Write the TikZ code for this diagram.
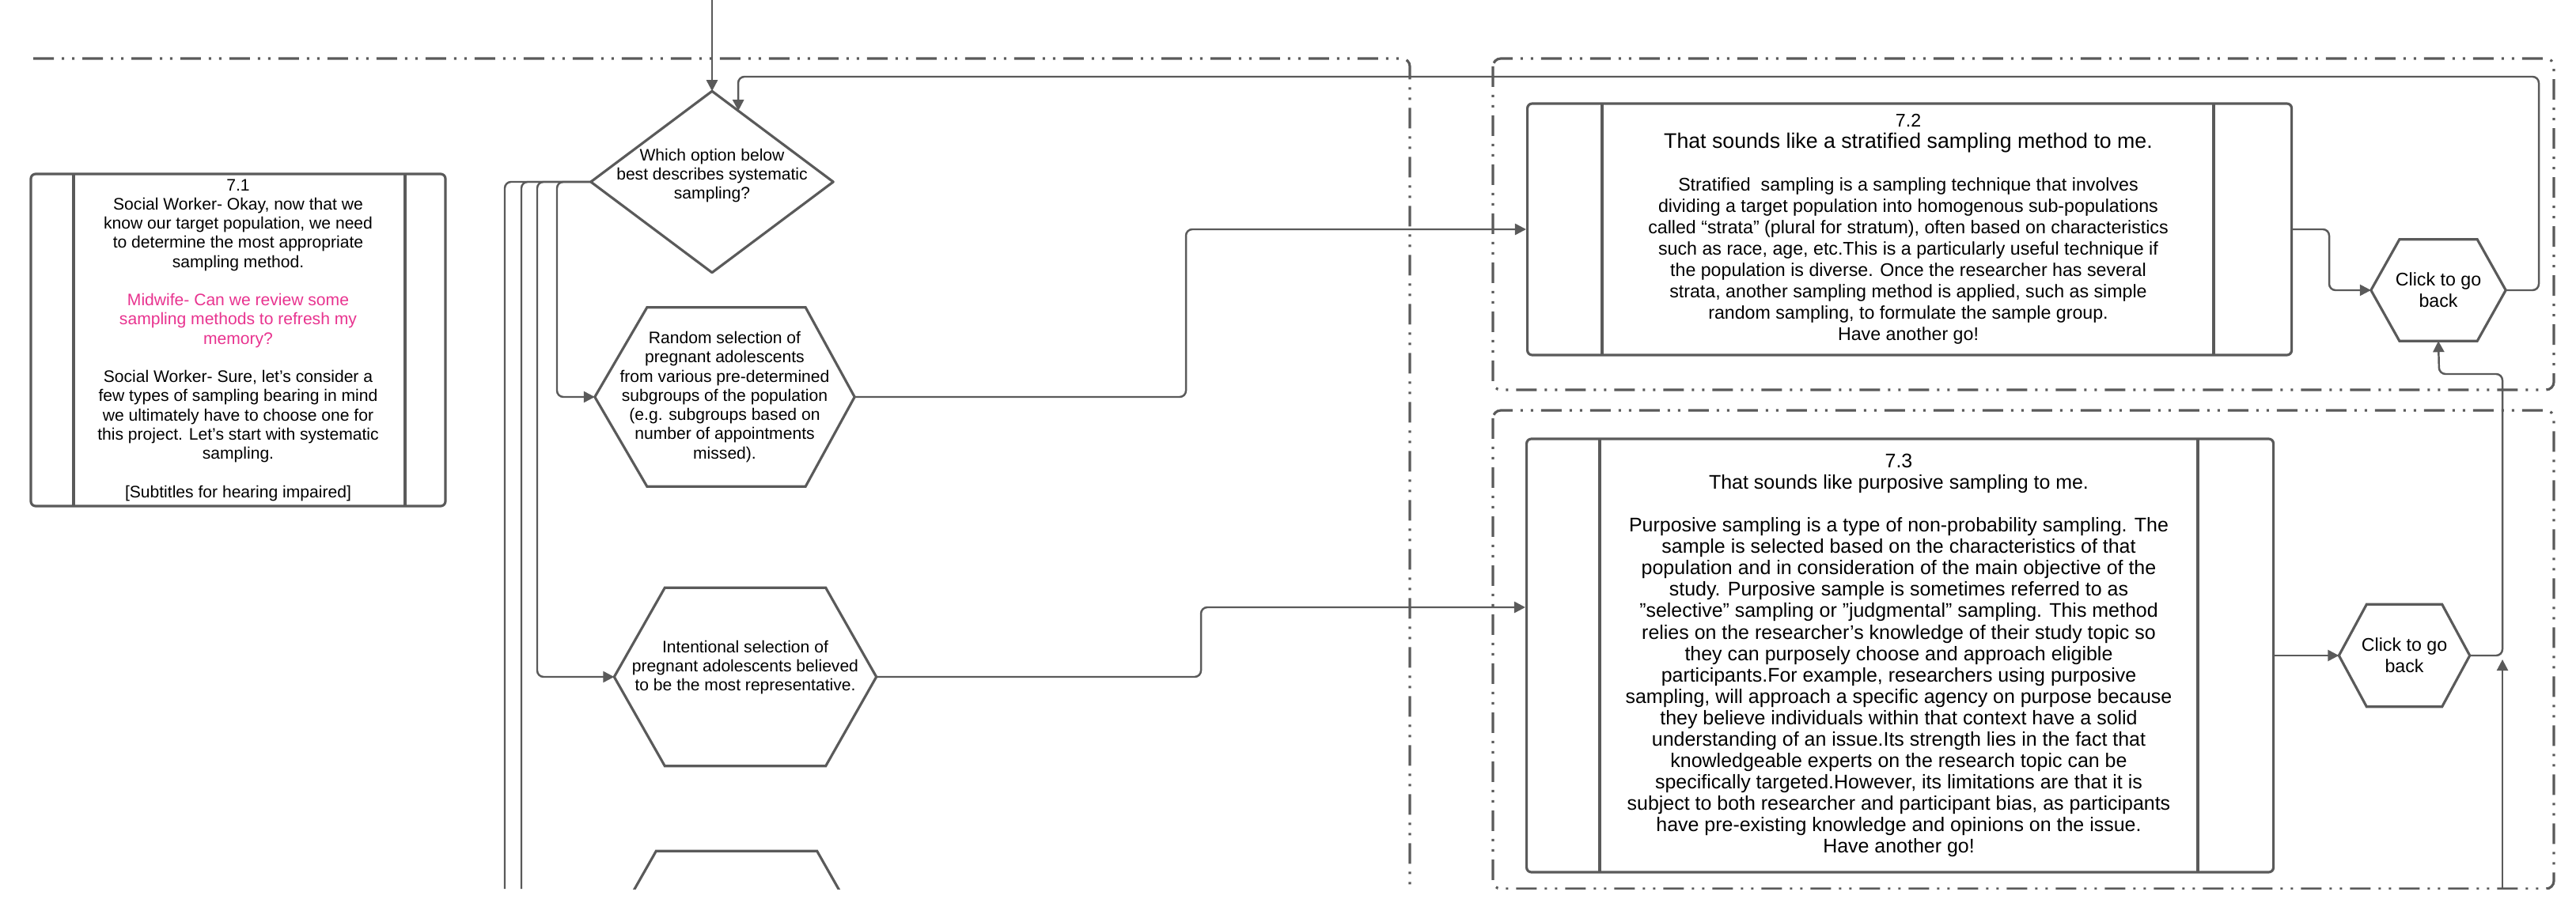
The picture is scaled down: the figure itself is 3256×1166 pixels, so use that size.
\documentclass[tikz,border=0pt]{standalone}
\usepackage{fontspec}
\setmainfont{Liberation Sans}
\usetikzlibrary{arrows.meta,calc}
\definecolor{ln}{HTML}{5A5A5A}
\definecolor{pink}{HTML}{E8338F}
\begin{document}
\begin{tikzpicture}[x=0.1mm,y=-0.1mm,
  frame/.style={draw=ln,line width=0.9pt,rounded corners=1mm,dash pattern=on 2.6mm off 1mm on 0.3mm off 1mm on 0.3mm off 1mm},
  con/.style={draw=ln,line width=0.7pt,rounded corners=0.8mm},
  arr/.style={con,-{Triangle[width=4pt,length=4pt]}},
  box/.style={draw=ln,line width=0.9pt,rounded corners=0.6mm,inner sep=0pt},
  ghost/.style={draw=none,inner sep=0pt,align=center},
  txt/.style={align=center,font=\fontsize{6}{6.9}\selectfont},
  txtb/.style={align=center,font=\fontsize{6.6}{7.7}\selectfont},
  txtc/.style={align=center,font=\fontsize{7.1}{7.7}\selectfont},
  shp/.style={draw=ln,line width=0.9pt}
]
\useasboundingbox (0,0) rectangle (3256,1166);
\clip (0,0) rectangle (3256,1124);
% frames
\draw[frame] (42,74) -- (1782,74) -- (1782,1124);
\draw[frame] (1887,74) rectangle (3228,493);
\draw[frame] (1887,519) rectangle (3228,1124);

% 7.1
\node[box,minimum width=52.4mm,minimum height=42mm] (b1) at (301,430) {};
\draw[shp] (93,220) -- (93,640) (512,220) -- (512,640);
\node[txt] at (301,430) {7.1\\Social Worker- Okay, now that we\\know our target population, we need\\to determine the most appropriate\\sampling method.\\[6.9pt]
\textcolor{pink}{Midwife- Can we review some}\\\textcolor{pink}{sampling methods to refresh my}\\\textcolor{pink}{memory?}\\[6.9pt]
Social Worker- Sure, let's consider a\\few types of sampling bearing in mind\\we ultimately have to choose one for\\this project. Let's start with systematic\\sampling.\\[6.9pt][Subtitles for hearing impaired]};

% diamond
\node[ghost,minimum width=30.5mm,minimum height=22.8mm] (d) at (900,230) {};
\draw[shp,line join=round] (d.west) -- (d.north) -- (d.east) -- (d.south) -- cycle;
\node[txt] at (900,222) {Which option below\\best describes systematic\\sampling?};

% hexagons
\node[ghost,minimum width=32.7mm,minimum height=22.5mm] (h1) at (916,502) {};
\draw[shp] (h1.west) -- ($(h1.north west)+(66,0)$) -- ($(h1.north east)+(-62,0)$) -- (h1.east) -- ($(h1.south east)+(-62,0)$) -- ($(h1.south west)+(66,0)$) -- cycle;
\node[txt] at (916,502) {Random selection of\\pregnant adolescents\\from various pre-determined\\subgroups of the population\\(e.g. subgroups based on\\number of appointments\\missed).};

\node[ghost,minimum width=33mm,minimum height=22.4mm] (h2) at (942,856) {};
\draw[shp] (h2.west) -- ($(h2.north west)+(64,0)$) -- ($(h2.north east)+(-64,0)$) -- (h2.east) -- ($(h2.south east)+(-64,0)$) -- ($(h2.south west)+(64,0)$) -- cycle;
\node[txt] at (942,844) {Intentional selection of\\pregnant adolescents believed\\to be the most representative.};

\node[ghost,minimum width=33mm,minimum height=22.4mm] (h3) at (931,1189) {};
\draw[shp] (h3.west) -- ($(h3.north west)+(64,0)$) -- ($(h3.north east)+(-64,0)$) -- (h3.east) -- ($(h3.south east)+(-64,0)$) -- ($(h3.south west)+(64,0)$) -- cycle;

% 7.2
\node[box,minimum width=96.6mm,minimum height=31.8mm] (b2) at (1929,290) [anchor=west] {};
\draw[shp] (2025,131) -- (2025,449) (2798,131) -- (2798,449);
\node[txtb] at (2412,290) {7.2\\{\fontsize{7.6}{8.8}\selectfont That sounds like a stratified sampling method to me.}\\[7.7pt]
Stratified\ \ sampling is a sampling technique that involves\\dividing a target population into homogenous sub-populations\\called ``strata'' (plural for stratum), often based on characteristics\\such as race, age, etc.This is a particularly useful technique if\\the population is diverse. Once the researcher has several\\strata, another sampling method is applied, such as simple\\random sampling, to formulate the sample group.\\Have another go!};

% 7.3
\node[box,minimum width=94.4mm,minimum height=54.8mm] (b3) at (1928,829) [anchor=west] {};
\draw[shp] (2022,555) -- (2022,1103) (2778,555) -- (2778,1103);
\node[txtc] at (2400,829) {7.3\\That sounds like purposive sampling to me.\\[7.7pt]
Purposive sampling is a type of non-probability sampling. The\\sample is selected based on the characteristics of that\\population and in consideration of the main objective of the\\study. Purposive sample is sometimes referred to as\\"selective" sampling or "judgmental" sampling. This method\\relies on the researcher's knowledge of their study topic so\\they can purposely choose and approach eligible\\participants.For example, researchers using purposive\\sampling, will approach a specific agency on purpose because\\they believe individuals within that context have a solid\\understanding of an issue.Its strength lies in the fact that\\knowledgeable experts on the research topic can be\\specifically targeted.However, its limitations are that it is\\subject to both researcher and participant bias, as participants\\have pre-existing knowledge and opinions on the issue.\\Have another go!};

% click hexagons
\node[ghost,minimum width=16.9mm,minimum height=12.7mm,txtb] (c1) at (3082,367) {Click to go\\back};
\draw[shp] (c1.west) -- ($(c1.north west)+(36,0)$) -- ($(c1.north east)+(-36,0)$) -- (c1.east) -- ($(c1.south east)+(-36,0)$) -- ($(c1.south west)+(36,0)$) -- cycle;
\node[ghost,minimum width=16.4mm,minimum height=12.8mm,txtb] (c2) at (3039,829) {Click to go\\back};
\draw[shp] (c2.west) -- ($(c2.north west)+(35,0)$) -- ($(c2.north east)+(-35,0)$) -- (c2.east) -- ($(c2.south east)+(-35,0)$) -- ($(c2.south west)+(35,0)$) -- cycle;

% connectors
\coordinate (top) at (900,0);
\coordinate (bot) at (3163,1124);
\draw[arr] (top) -- (d.north);
\draw[arr] (c1.east) -- (3209,367) -- (3209,97) -- (933,97) -- ($(d.north)!0.217!(d.east)$);
\draw[arr] (d.west) -- (704,230) -- (704,502) -- (h1.west);
\draw[arr] (d.west) -- (679,230) -- (679,856) -- (h2.west);
\draw[con] (d.west) -- (659,230) -- (659,1124);
\draw[con] (d.west) -- (638,230) -- (638,1124);
\draw[arr] (h1.east) -- (1499,502) -- (1499,290) -- (b2.west);
\draw[arr] (h2.east) -- (1518,856) -- (1518,768) -- (b3.west |- 0,768);
\draw[arr] (b2.east) -- (2944,290) -- (2944,367) -- (c1.west);
\draw[arr] (b3.east) -- (c2.west);
\draw[arr] (c2.east) -- (3163,829) -- (3163,473) -- (3083,473) -- (c1.south);
\draw[arr,rounded corners=0pt] (bot) -- (3163,834);
\end{tikzpicture}
\end{document}
